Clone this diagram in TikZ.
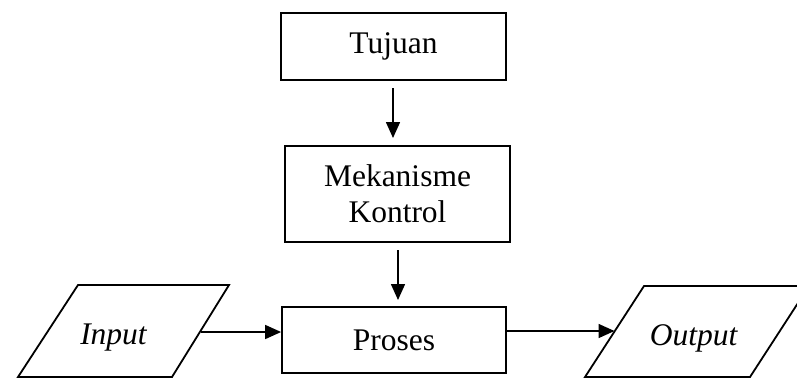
\documentclass[tikz,border=0pt]{standalone}
\usepackage{fontspec}
\setmainfont{Liberation Serif}
\usetikzlibrary{arrows.meta}
\begin{document}
\begin{tikzpicture}[x=1pt,y=-1pt,
  box/.style={draw,line width=1.8pt,inner sep=0pt,align=center,font=\fontsize{31.5}{36}\selectfont},
  ptext/.style={inner sep=0pt,text height=27pt,text depth=0pt,font=\fontsize{31.5}{36}\selectfont\itshape},
  pline/.style={line width=1.8pt,line join=miter},
  arr/.style={line width=1.6pt,-{Triangle[length=16pt,width=14pt]}}]
\useasboundingbox (0,0) rectangle (797,378);
\node[box,minimum width=225pt,minimum height=67pt] (tuj) at (393.5,46.5) {Tujuan};
\node[box,minimum width=225pt,minimum height=96pt] (mek) at (397.5,194) {Mekanisme\\Kontrol};
\node[box,minimum width=224pt,minimum height=66pt] (pro) at (394,340) {Proses};
% Input parallelogram
\draw[pline] (18,377) -- (78,285) -- (229,285) -- (172,377) -- cycle;
\node[ptext] (inp) at (113.5,331) {Input};
\coordinate (inpR) at (200.5,332);
% Output parallelogram
\draw[pline] (585,377) -- (644,286) -- (809,286) -- (750,377) -- cycle;
\node[ptext] (out) at (693.5,331.5) {Output};
\coordinate (outL) at (614.5,331);
\coordinate (a1s) at (393,88);
\coordinate (a1e) at (393,138);
\coordinate (a2s) at (398,250);
\coordinate (a2e) at (398,300);
\draw[arr] (a1s) -- (a1e);
\draw[arr] (a2s) -- (a2e);
\draw[arr] (inpR) -- (inpR -| pro.west);
\draw[arr] (outL -| pro.east) -- (outL);
\end{tikzpicture}
\end{document}
